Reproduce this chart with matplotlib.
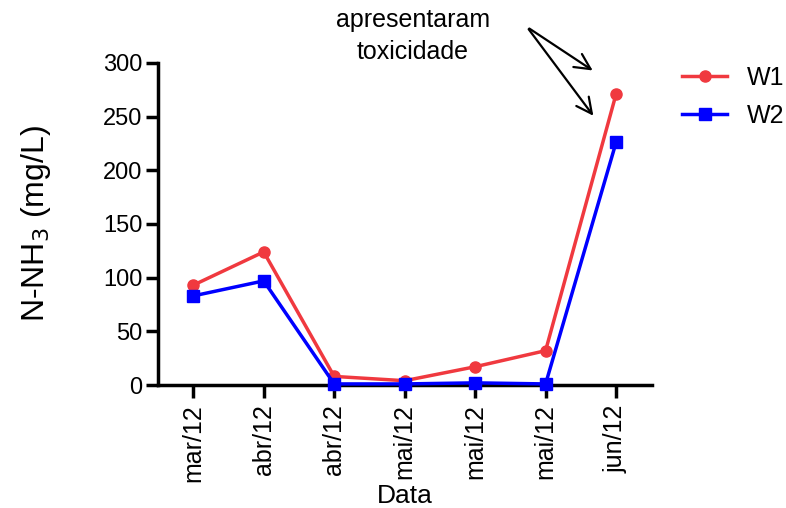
import matplotlib
matplotlib.use('Agg')
import matplotlib.pyplot as plt

plt.rcParams['font.family'] = ['Liberation Sans', 'DejaVu Sans']

datas = ['mar/12', 'abr/12', 'abr/12', 'mai/12', 'mai/12', 'mai/12', 'jun/12']
w1 = [93, 124, 8, 4, 17, 32, 271]
w2 = [83, 97, 1, 1, 2, 1, 226]

fig = plt.figure(figsize=(7.86, 5.08), dpi=100)
ax = fig.add_axes([158 / 786, 1 - 385 / 508, (652 - 158) / 786, (385 - 63) / 508])

x = list(range(len(datas)))
ax.plot(x, w1, color='#f0393f', marker='o', markersize=8, linewidth=2.5, label='W1', clip_on=False, zorder=3)
ax.plot(x, w2, color='#0000ff', marker='s', markersize=8, linewidth=2.5, label='W2', clip_on=False, zorder=4)

ax.set_xlim(-0.5, 6.51)
ax.set_ylim(0, 300)
ax.set_yticks([0, 50, 100, 150, 200, 250, 300])
ax.set_xticks(x)
ax.set_xticklabels(datas, rotation=90, fontsize=18)
ax.tick_params(axis='y', labelsize=17, width=2.5, length=9, pad=2)
ax.tick_params(axis='x', width=2.5, length=9, pad=5)

for s in ['top', 'right']:
    ax.spines[s].set_visible(False)
for s in ['left', 'bottom']:
    ax.spines[s].set_linewidth(2.5)

ax.set_xlabel('Data', fontsize=19, labelpad=1)
ax.set_ylabel('N-NH$_3$ (mg/L)', fontsize=23, labelpad=36)

# arrows pointing to the last collection point
fig.text(413 / 786, 1 - 36 / 508, 'apresentaram\ntoxicidade', ha='center', va='center',
         fontsize=18, linespacing=1.4)
start = (527 / 786, 1 - 27 / 508)
for end in [(595 / 786, 1 - 72 / 508), (595 / 786, 1 - 118 / 508)]:
    ax.annotate('', xy=end, xycoords='figure fraction', xytext=start, textcoords='figure fraction',
                arrowprops=dict(arrowstyle='->', color='black', lw=1.6, mutation_scale=28),
                annotation_clip=False)

ax.legend(loc='upper left', bbox_to_anchor=(682 / 786, 1 - 66 / 508), bbox_transform=fig.transFigure,
          frameon=False, fontsize=18, handlelength=1.8, handletextpad=0.8, labelspacing=0.55,
          borderaxespad=0, borderpad=0)

fig.savefig('out.png', dpi=100)
